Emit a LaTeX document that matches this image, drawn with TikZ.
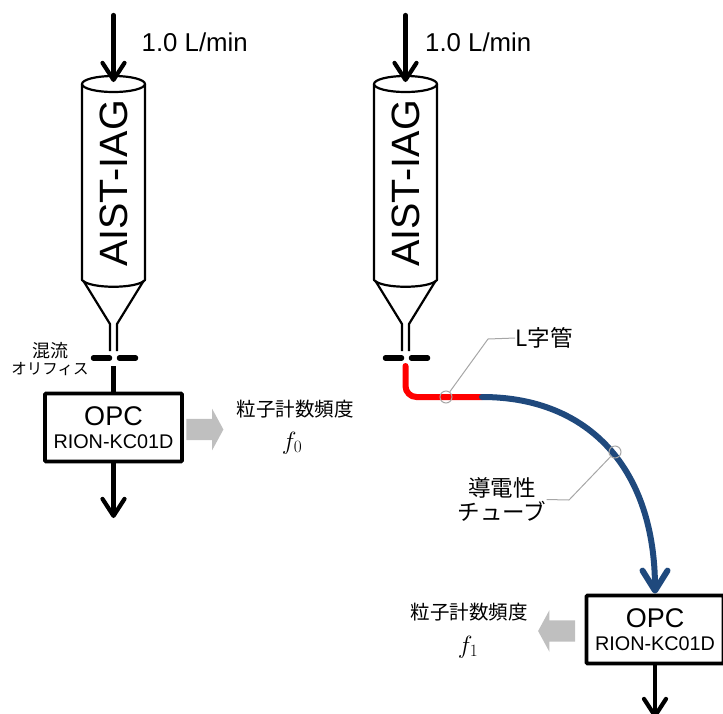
\documentclass[tikz,border=0pt]{standalone}
\usepackage{fontspec}
\setmainfont{Liberation Sans}
\newfontfamily\jpfont{Noto Sans CJK JP}
\usetikzlibrary{arrows.meta,shapes.arrows,positioning}

\begin{document}
\begin{tikzpicture}[%
    x=1pt, y=-1pt,               % Same units as the image, y going down
    >={Straight Barb[length=17pt,width=22pt,round]},
    ]
% -------------------------------------------------
% A few styles
\tikzset{
  pipe/.style={->, line width=4.2pt, line cap=round},
  wall/.style={draw, line width=2.2pt, line join=round},
  plate/.style={line width=5.5pt, line cap=round},
  opc/.style={draw, line width=3.8pt, rounded corners=1pt, align=center,
    minimum width=137pt, minimum height=68pt, inner sep=0pt},
  flowout/.style={single arrow, fill=arrowgray, inner sep=0pt, minimum height=37pt,
    text height=21pt, text depth=0pt, text width=0pt,
    single arrow head extend=10pt, single arrow tip angle=123},
  lbl/.style={font=\fontsize{25.8}{28}\selectfont, inner sep=0pt},
  jplbl/.style={font=\jpfont\fontsize{22.5}{24}\selectfont, inner sep=0pt, align=center},
  freq/.style={font=\jpfont\fontsize{19.5}{22}\selectfont, inner sep=0pt},
  leader/.style={draw=leadergray, line width=1pt},
  mark circle/.style={circle, draw=leadergray, line width=1pt, minimum size=12pt, inner sep=0pt},
  tube/.style={line width=6pt},
}
\definecolor{arrowgray}{HTML}{BFBFBF}
\definecolor{leadergray}{HTML}{A6A6A6}
\definecolor{tubeblue}{HTML}{1F497D}
\clip (0,0) rectangle (723,713);
\useasboundingbox (0,0) rectangle (723,713);
% -------------------------------------------------
% The two samplers are the same, only shifted
\foreach \cx/\n/\rx in {113.5/a/28,405.5/b/19.5} {
  \begin{scope}[xshift=\cx pt]
    \draw [wall] (0,84) ellipse (31.5 and 8);
    \draw [wall] (-31.5,84) -- (-31.5,280) .. controls (-24,289) and (24,289) .. (31.5,280) -- (31.5,84);
    \draw [wall] (-30,281) -- (-3.5,324) -- (-3.5,351);
    \draw [wall] (30,281) -- (3.5,324) -- (3.5,351);
    \draw [plate] (-20,358) -- (-4,358);
    \draw [plate] (6,358) -- (22,358);
    \node [rotate=90, font=\fontsize{39.5}{42}\selectfont, inner sep=0pt] (iag\n) at (0,183.5) {AIST-IAG};
    \coordinate (in\n) at (0,15);
    \coordinate (top\n) at (0,82);
    \coordinate (hole\n) at (0,366);
    \draw [pipe] (in\n) -- (top\n);
    \node [lbl, anchor=west] (rate\n) at (\rx,42) {1.0 L/min};
  \end{scope}
}
% -------------------------------------------------
% Left: counter right under the orifice
\node [opc] (opca) at (113.5,427.5) {\fontsize{27}{30}\selectfont OPC\\[8pt]\fontsize{19.8}{22}\selectfont RION-KC01D};
\coordinate (outa) at (113.5,518);
\draw [line width=4.2pt] (holea) -- (opca.north);
\draw [pipe] (opca.south) -- (outa);
\node [flowout] (arra) at (202,429.5) {};
\node [freq] (txta) at (295,409) {粒子計数頻度};
\node [inner sep=0pt, font=\fontsize{24}{26}\selectfont] (fa) at (292,443) {$f_0$};
\node [jplbl, font=\jpfont\fontsize{18}{20}\selectfont] (mixa) at (50,351) {混流};
\node [jplbl, font=\jpfont\fontsize{15.5}{18}\selectfont] (orifa) at (50,369) {オリフィス};
% -------------------------------------------------
% Right: counter at the end of the tube
\node [opc] (opcb) at (655,629.5) {\fontsize{27}{30}\selectfont OPC\\[8pt]\fontsize{19.8}{22}\selectfont RION-KC01D};
\coordinate (elbow) at (482,397);
\coordinate (outb) at (655,718);
\draw [tube, red, line cap=round, rounded corners=11pt] (holeb) |- (elbow);
\draw [tube, tubeblue, -{Straight Barb[length=20pt,width=25pt,round]}, line cap=round] (elbow) .. controls (590,397) and (655,470) .. (opcb.north);
\draw [pipe] (opcb.south) -- (outb);
\node [flowout, shape border rotate=180] (arrb) at (559.5,631) {};
\node [freq] (txtb) at (469,612) {粒子計数頻度};
\node [inner sep=0pt, font=\fontsize{24}{26}\selectfont] (fb) at (468,647) {$f_1$};
% -------------------------------------------------
% Callouts
\node [mark circle] (ringl) at (446,397) {};
\node [mark circle] (ringt) at (615,452) {};
\node [jplbl] (ltube) at (544,338) {L字管};
\node [jplbl] (ctube) at (502,499.5) {導電性\\チューブ};
\draw [leader] (ringl) -- (488,339) -- (ltube.west);
\draw [leader] (ringt) -- (569,500) -- (ctube.east);
% -------------------------------------------------
\end{tikzpicture}
\end{document}
